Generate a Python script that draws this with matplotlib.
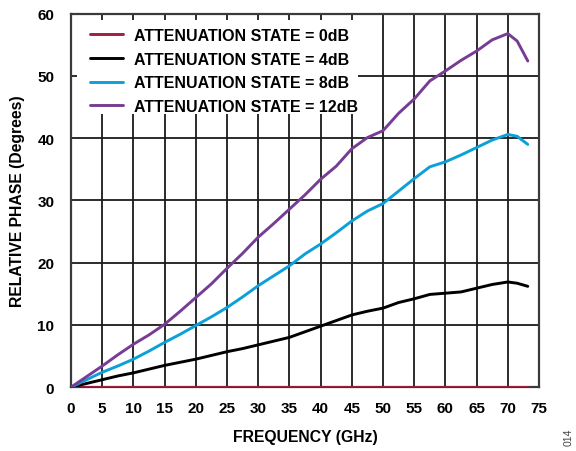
import matplotlib
matplotlib.use("Agg")
import matplotlib.pyplot as plt
from matplotlib.patches import Rectangle

plt.rcParams['font.family'] = ['Liberation Sans', 'DejaVu Sans']
plt.rcParams['font.weight'] = 'bold'

# Frequency sweep (GHz)
freq_ghz = [0, 2.5, 5, 7.5, 10, 12.5, 15, 17.5, 20, 22.5, 25, 27.5, 30, 32.5,
            35, 37.5, 40, 42.5, 45, 47.5, 50, 52.5, 55, 57.5, 60, 62.5, 65,
            67.5, 70, 71.5, 73.2]

# Relative phase (degrees) per attenuation state
phase_0db = [0.0] * len(freq_ghz)
phase_4db = [0, 0.6, 1.2, 1.8, 2.3, 2.9, 3.5, 4.0, 4.5, 5.1, 5.7, 6.2, 6.8, 7.4,
             8.0, 8.9, 9.8, 10.7, 11.6, 12.2, 12.7, 13.6, 14.2, 14.9, 15.1, 15.3,
             15.9, 16.5, 16.9, 16.7, 16.2]
phase_8db = [0, 1.2, 2.4, 3.4, 4.5, 5.8, 7.2, 8.5, 9.9, 11.3, 12.8, 14.5, 16.3,
             17.9, 19.5, 21.4, 23.0, 24.8, 26.7, 28.3, 29.5, 31.5, 33.5, 35.4,
             36.2, 37.3, 38.5, 39.7, 40.6, 40.3, 39.0]
phase_12db = [0, 1.7, 3.4, 5.2, 6.9, 8.4, 10.1, 12.2, 14.4, 16.6, 19.1, 21.5,
              24.1, 26.3, 28.6, 30.9, 33.4, 35.5, 38.3, 40.1, 41.2, 44.0, 46.3,
              49.2, 50.8, 52.5, 54.0, 55.8, 56.8, 55.6, 52.4]

labels = ["ATTENUATION STATE = 0dB", "ATTENUATION STATE = 4dB",
          "ATTENUATION STATE = 8dB", "ATTENUATION STATE = 12dB"]
colors = ["#A01E42", "#000000", "#0BA0D8", "#773C93"]
series = [phase_0db, phase_4db, phase_8db, phase_12db]

x_ticks = list(range(0, 80, 5))
y_ticks = list(range(0, 70, 10))

fig = plt.figure(figsize=(5.76, 4.52), dpi=100)
ax = fig.add_axes([0.1233, 0.1412, 0.8125, 0.8263])

for vals, lab, col in zip(series, labels, colors):
    ax.plot(freq_ghz, vals, color=col, lw=2.1, label=lab, zorder=3,
            solid_capstyle='round', solid_joinstyle='round')

ax.set_xlim(0, 75)
ax.set_ylim(0, 60)
ax.set_xticks(x_ticks)
ax.set_yticks(y_ticks)
ax.grid(True, color='#1a1a1a', lw=1.3)
ax.set_axisbelow(True)
ax.tick_params(direction='in', length=4, width=1.2, top=True, right=True,
               labelsize=11, color='#333333')
ax.tick_params(axis='x', pad=10)
ax.tick_params(axis='y', pad=12)
for s in ax.spines.values():
    s.set_color('#3a3a3a')
    s.set_linewidth(1.6)

# white backing panel behind the legend
ax.add_patch(Rectangle((0.013, 0.7315), 0.60, 0.2515, transform=ax.transAxes,
                       facecolor='white', edgecolor='none', zorder=1.8))

ax.legend(loc='upper left', bbox_to_anchor=(0.041, 0.962), frameon=False,
          fontsize=11.5, handlelength=2.06, handletextpad=0.69,
          labelspacing=0.54, borderpad=0, borderaxespad=0)

ax.set_xlabel("FREQUENCY (GHz)", fontsize=11.3, fontweight='bold', labelpad=10)
ax.set_ylabel("RELATIVE PHASE (Degrees)", fontsize=11.3, fontweight='bold',
              labelpad=9)

fig.text(0.988, 0.013, "014", rotation=90, fontsize=7.5, color='#444444',
         fontweight='normal', ha='center', va='bottom')

fig.savefig("out.png", dpi=100)
